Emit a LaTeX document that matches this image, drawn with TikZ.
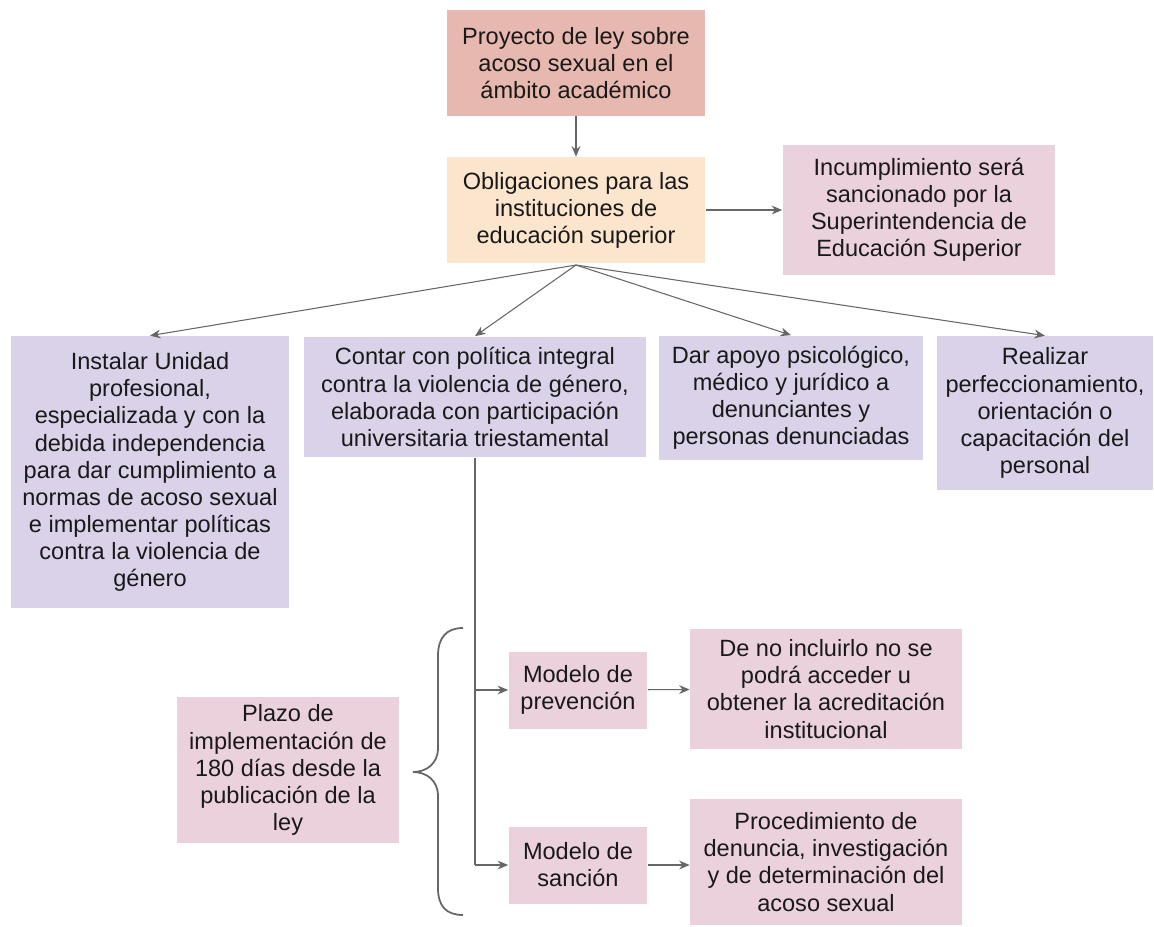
\documentclass[tikz,border=0pt]{standalone}
\usepackage{fontspec}
\setmainfont{Liberation Sans}
\usepackage{tikz}
\usetikzlibrary{arrows.meta,positioning,calc}
\usepackage{xcolor}
\definecolor{rose}{RGB}{230,184,175}
\definecolor{peach}{RGB}{252,229,205}
\definecolor{pink}{RGB}{234,209,220}
\definecolor{lilac}{RGB}{217,210,233}
\definecolor{line}{RGB}{102,102,102}

\begin{document}
\begin{tikzpicture}[x=0.02cm,y=-0.02cm]
\tikzstyle{B}=[inner sep=0pt,align=center,font=\fontsize{13.4}{15.4}\selectfont,text=black!90]
\tikzstyle{A}=[-{Stealth[length=6pt,width=5pt]},line,line width=0.6pt]
\useasboundingbox (0,0) rectangle (1154,927);
\node[B,fill=rose,minimum width=5.18cm,minimum height=2.12cm] (p) at (576,63)
{Proyecto de ley sobre\\acoso sexual en el\\ámbito académico};
\node[B,fill=peach,minimum width=5.18cm,minimum height=2.12cm] (o) at (576,210)
{Obligaciones para las\\instituciones de\\educación superior};
\node[B,fill=pink,minimum width=5.46cm,minimum height=2.6cm] (i) at (919,210)
{Incumplimiento será\\sancionado por la\\Superintendencia de\\Educación Superior};
\node[B,fill=lilac,minimum width=5.58cm,minimum height=5.44cm] (u) at (150,472)
{Instalar Unidad\\profesional,\\especializada y con la\\debida independencia\\para dar cumplimiento a\\normas de acoso sexual\\e implementar políticas\\contra la violencia de\\género};
\node[B,fill=lilac,minimum width=6.84cm,minimum height=2.42cm] (c) at (475,397)
{Contar con política integral\\contra la violencia de género,\\elaborada con participación\\universitaria triestamental};
\node[B,fill=lilac,minimum width=5.28cm,minimum height=2.5cm] (d) at (791,398)
{Dar apoyo psicológico,\\médico y jurídico a\\denunciantes y\\personas denunciadas};
\node[B,fill=lilac,minimum width=4.32cm,minimum height=3.08cm] (r) at (1045,413)
{Realizar\\perfeccionamiento,\\orientación o\\capacitación del\\personal};
\node[B,fill=pink,minimum width=4.46cm,minimum height=2.92cm] (z) at (288,770)
{Plazo de\\implementación de\\180 días desde la\\publicación de la\\ley};
\node[B,fill=pink,minimum width=2.78cm,minimum height=1.54cm] (mp) at (578,690)
{Modelo de\\prevención};
\node[B,fill=pink,minimum width=2.78cm,minimum height=1.54cm] (ms) at (578,865)
{Modelo de\\sanción};
\node[B,fill=pink,minimum width=5.44cm,minimum height=2.4cm] (n) at (826,689)
{De no incluirlo no se\\podrá acceder u\\obtener la acreditación\\institucional};
\node[B,fill=pink,minimum width=5.44cm,minimum height=2.54cm] (e) at (826,862)
{Procedimiento de\\denuncia, investigación\\y de determinación del\\acoso sexual};
% connectors
\coordinate (f) at (576,265);
\draw[A] (p)--(o);
\draw[A] (o)--(i);
\draw[A] (f)--(u.north);
\draw[A] (f)--(c.north);
\draw[A] (f)--(d.north);
\draw[A] (f)--(r.north);
\coordinate (v) at (475,865);
\draw[line,line width=0.6pt] (c.south -| v)--(v);
\draw[A] (c.south -| v) |- (mp);
\draw[A] (v)--(ms);
\draw[A] (mp)--(n);
\draw[A] (ms)--(ms -| n.west);
% brace
\draw[line,line width=1pt] (463,628) .. controls (446,628) and (438,638) .. (438,656)
--(438,748) .. controls (438,764) and (426,772) .. (413,772)
.. controls (426,772) and (438,780) .. (438,796) --(438,888)
.. controls (438,906) and (446,915) .. (463,915);
\end{tikzpicture}
\end{document}
